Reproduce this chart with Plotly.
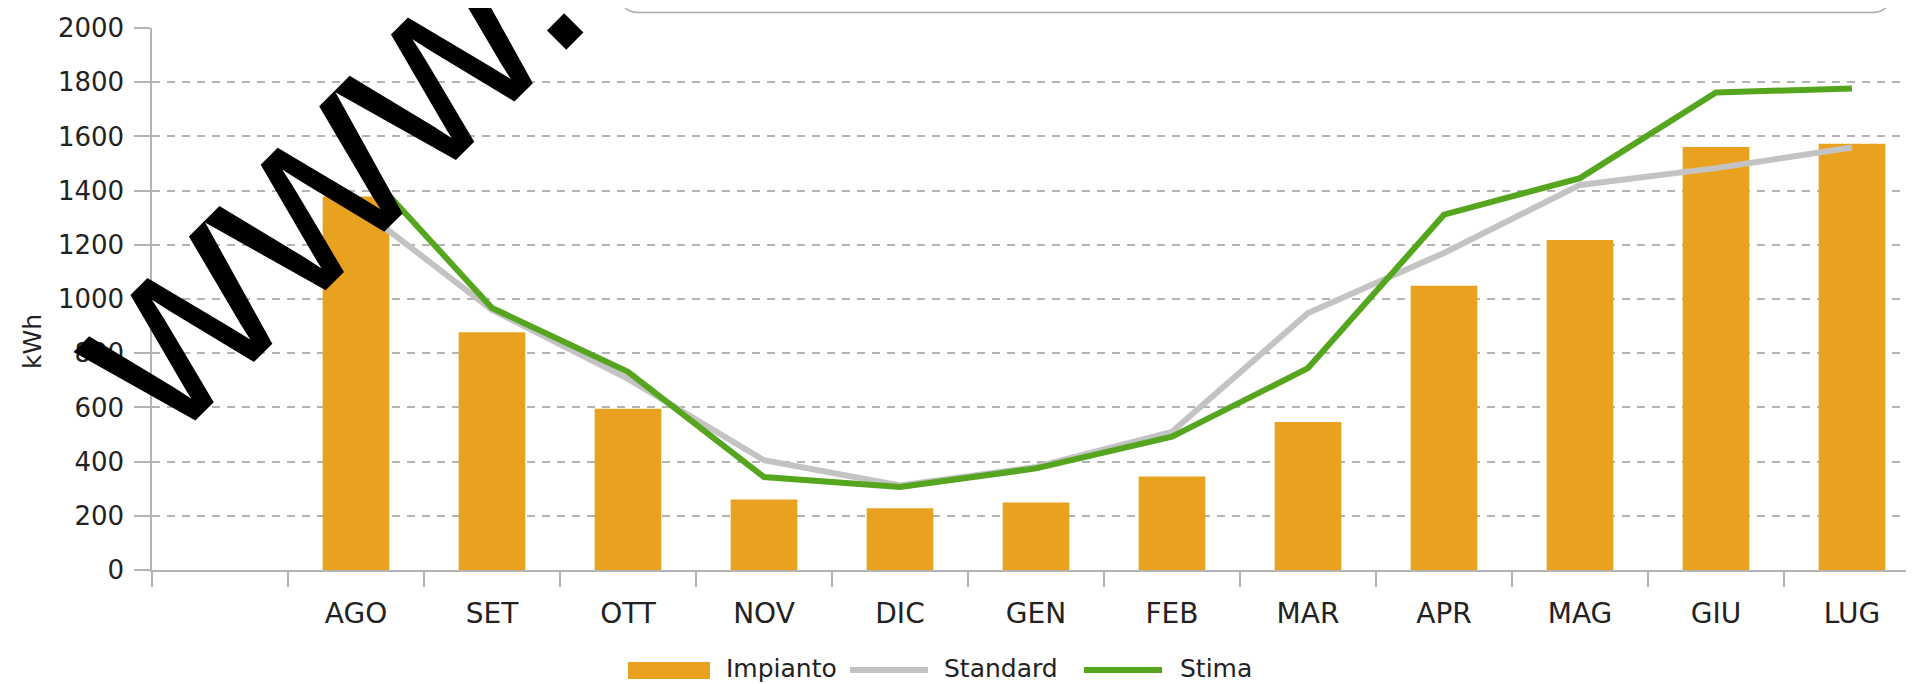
import plotly.graph_objects as go

# ---------------- data ----------------
categories = ["", "AGO", "SET", "OTT", "NOV", "DIC", "GEN", "FEB", "MAR", "APR", "MAG", "GIU", "LUG"]
impianto = [None, 1378, 877, 595, 260, 228, 249, 345, 546, 1049, 1218, 1561, 1573]
standard = [None, 1345, 960, 705, 405, 312, 380, 510, 948, 1170, 1421, 1483, 1559]
stima = [None, 1515, 967, 731, 343, 306, 375, 492, 745, 1311, 1446, 1762, 1777]
y_ticks = [0, 200, 400, 600, 800, 1000, 1200, 1400, 1600, 1800, 2000]
legend_names = ["Impianto", "Standard", "Stima"]

# page body has an 8px default margin: work in screen pixels and convert
OFF = 8
W, H = 1914 - OFF, 684 - OFF
AX_L, AX_T, AX_B = 152, 28, 570          # screen coords of plot area
ML, MR = AX_L - OFF, 0
MT, MB = AX_T - OFF, H - (AX_B - OFF)
PW, PH = W - ML - MR, H - MT - MB

ORANGE = "#E9A220"
GRAY = "#C3C3C3"
GREEN = "#55A51E"
FONT = "DejaVu Sans"
TXT = "#222222"


def px(X):
    return (X - OFF - ML) / PW


def py(Y):
    return (H - MB - (Y - OFF)) / PH


fig = go.Figure()
fig.add_trace(go.Bar(x=categories, y=impianto, name=legend_names[0],
                     marker=dict(color=ORANGE, line=dict(width=0))))
fig.add_trace(go.Scatter(x=categories, y=standard, name=legend_names[1], mode="lines",
                         line=dict(color=GRAY, width=6)))
fig.add_trace(go.Scatter(x=categories, y=stima, name=legend_names[2], mode="lines",
                         line=dict(color=GREEN, width=6)))

cat_w = 136.0
x_end = -0.5 + PW / cat_w

fig.update_layout(
    width=W, height=H,
    margin=dict(l=ML, r=MR, t=MT, b=MB, autoexpand=False),
    paper_bgcolor="white", plot_bgcolor="white",
    showlegend=False,
    bargap=0.51,
    font=dict(family=FONT, color=TXT),
    xaxis=dict(type="category", range=[-0.5, x_end], tickson="boundaries",
               ticks="outside", ticklen=15, tickwidth=1.5, tickcolor="#b3b3b3",
               showline=True, linecolor="#b3b3b3", linewidth=1.5,
               showgrid=False, tickfont=dict(size=28, family=FONT, color=TXT),
               ticklabelstandoff=18),
    yaxis=dict(range=[0, 2000], tickvals=y_ticks, ticks="outside", ticklen=16,
               tickwidth=1.5, tickcolor="#b3b3b3", showline=True, linecolor="#b3b3b3",
               linewidth=1.5, showgrid=True, gridcolor="#b3b3b3", gridwidth=1.5,
               griddash="8px,7px", zeroline=False,
               tickfont=dict(size=26, family=FONT, color=TXT),
               ticklabelstandoff=5),
)

shapes = []
annotations = []

# y axis title
annotations.append(dict(text="kWh", xref="paper", yref="paper", x=px(33), y=py(342),
                        xanchor="center", yanchor="middle", showarrow=False, textangle=-90,
                        font=dict(size=25, family=FONT, color=TXT)))

# legend (drawn manually to match the wide symbols)
lg_y = 670
shapes.append(dict(type="rect", xref="paper", yref="paper", x0=px(628), x1=px(710),
                   y0=py(662), y1=py(679), fillcolor=ORANGE, line=dict(width=0), layer="above"))
shapes.append(dict(type="line", xref="paper", yref="paper", x0=px(850), x1=px(928),
                   y0=py(lg_y), y1=py(lg_y), line=dict(color=GRAY, width=6), layer="above"))
shapes.append(dict(type="line", xref="paper", yref="paper", x0=px(1084), x1=px(1162),
                   y0=py(lg_y), y1=py(lg_y), line=dict(color=GREEN, width=6), layer="above"))
for name, x0 in zip(legend_names, [724, 942, 1178]):
    annotations.append(dict(text=name, xref="paper", yref="paper", x=px(x0), y=py(lg_y - 2),
                            xanchor="left", yanchor="middle", showarrow=False,
                            font=dict(size=25, family=FONT, color=TXT)))

# rounded box at the top (partially cut off)
r = 18
x0b, x1b, yb, ytop = 621, 1890, 12.5, -40
path = (f"M {px(x0b)},{py(ytop)} L {px(x0b)},{py(yb - r)} "
        f"Q {px(x0b)},{py(yb)} {px(x0b + r)},{py(yb)} "
        f"L {px(x1b - r)},{py(yb)} Q {px(x1b)},{py(yb)} {px(x1b)},{py(yb - r)} "
        f"L {px(x1b)},{py(ytop)}")
shapes.append(dict(type="path", xref="paper", yref="paper", path=path,
                   line=dict(color="#aaaaaa", width=1.5), layer="above"))

# watermark text
annotations.append(dict(text="www.", xref="paper", yref="paper", x=px(321), y=py(169),
                        xanchor="center", yanchor="middle", showarrow=False, textangle=-45,
                        font=dict(size=255, family="Liberation Sans", color="black")))

fig.update_layout(shapes=shapes, annotations=annotations)
fig.write_html("out.html")
